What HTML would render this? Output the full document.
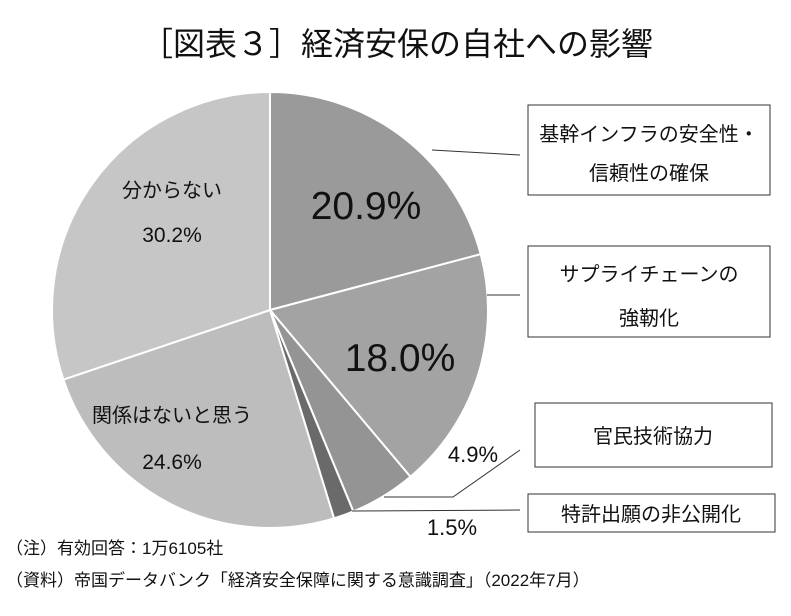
<!DOCTYPE html>
<html><head><meta charset="utf-8"><style>
body{margin:0;background:#fff;width:791px;height:611px;overflow:hidden;font-family:"Liberation Sans","Noto Sans CJK JP",sans-serif;}
svg text{font-family:"Liberation Sans","Noto Sans CJK JP",sans-serif;fill:#111;}
</style></head><body>
<svg width="791" height="611">
<text x="397" y="55" font-size="32" text-anchor="middle">［図表３］経済安保の自社への影響</text>
<g id="slices"></g>
<g stroke="#333" stroke-width="1" fill="none">
<polyline points="432,150 520,155"/>
<polyline points="487,295 520,295"/>
<polyline points="384,497 453,497 520,450"/>
<polyline points="352,511 520,510"/>
</g>
<g fill="#fff" stroke="#333" stroke-width="1">
<rect x="528" y="105" width="242" height="90"/>
<rect x="528" y="246" width="242" height="91"/>
<rect x="535" y="403" width="237" height="64"/>
<rect x="528" y="494" width="247" height="38"/>
</g>
<g font-size="20" text-anchor="middle">
<text x="649" y="141">基幹インフラの安全性・</text>
<text x="649" y="180">信頼性の確保</text>
<text x="649" y="281">サプライチェーンの</text>
<text x="649" y="325">強靭化</text>
<text x="653" y="443">官民技術協力</text>
<text x="651" y="521">特許出願の非公開化</text>
</g>
<g text-anchor="middle">
<text x="366" y="219" font-size="39">20.9%</text>
<text x="400" y="371" font-size="39">18.0%</text>
<text x="473" y="462" font-size="22">4.9%</text>
<text x="452" y="535" font-size="22">1.5%</text>
<text x="172" y="197" font-size="20">分からない</text>
<text x="172" y="242" font-size="21">30.2%</text>
<text x="172" y="422" font-size="20">関係はないと思う</text>
<text x="172" y="469" font-size="21">24.6%</text>
</g>
<text x="6" y="554" font-size="17">（注）有効回答：1万6105社</text>
<text x="6" y="586" font-size="17">（資料）帝国データバンク「経済安全保障に関する意識調査」（2022年7月）</text>
</svg>
<script>
const categories=["基幹インフラの安全性・信頼性の確保","サプライチェーンの強靭化","官民技術協力","特許出願の非公開化","関係はないと思う","分からない"];
const values=[20.9,18.0,4.9,1.5,24.6,30.2];
const colors=["#9a9a9a","#a3a3a3","#949494","#6a6a6a","#bdbdbd","#c6c6c6"];
const cx=270,cy=310,r=218;
const g=document.getElementById('slices');
const total=values.reduce((a,b)=>a+b,0);
let a=0;
function pt(t){return [cx+r*Math.sin(t),cy-r*Math.cos(t)];}
values.forEach((v,i)=>{
 const a0=a/total*2*Math.PI;a+=v;const a1=a/total*2*Math.PI;
 const p0=pt(a0),p1=pt(a1);
 const p=document.createElementNS('http://www.w3.org/2000/svg','path');
 p.setAttribute('d',`M${cx},${cy}L${p0[0]},${p0[1]}A${r},${r} 0 ${a1-a0>Math.PI?1:0} 1 ${p1[0]},${p1[1]}Z`);
 p.setAttribute('fill',colors[i]);p.setAttribute('stroke','#fff');p.setAttribute('stroke-width','2');
 
 
 g.appendChild(p);
});
</script>
</body></html>
